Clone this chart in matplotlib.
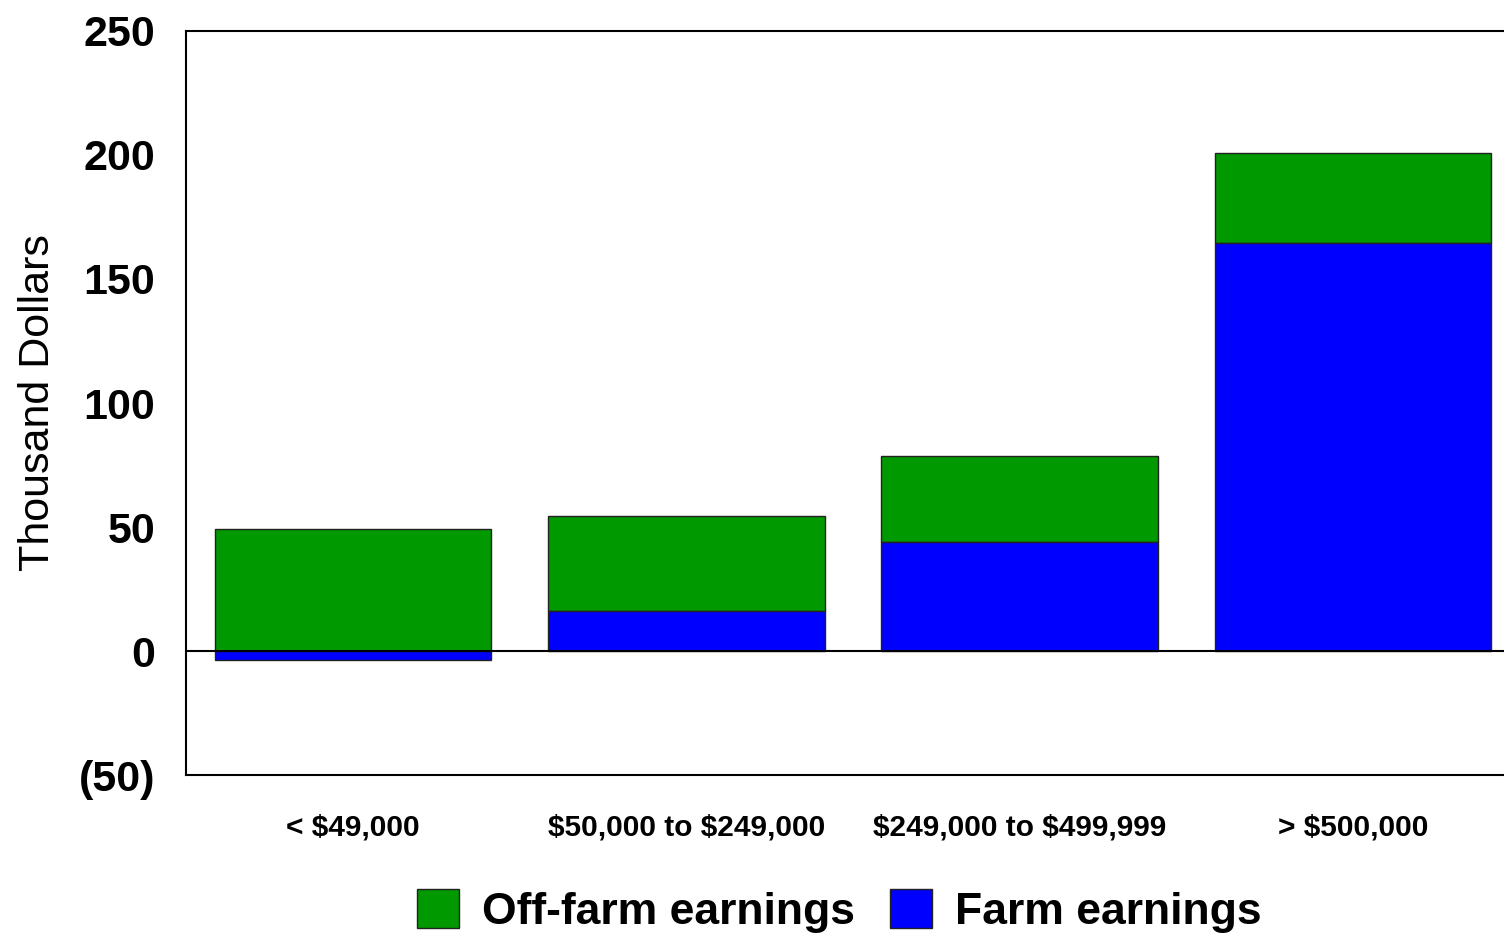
import matplotlib.pyplot as plt
import numpy as np

categories = ['< $49,000', '$50,000 to $249,000', '$249,000 to $499,999', '> $500,000']
farm = [-3.5, 16.1, 44.0, 164.5]
off_farm = [49.2, 38.3, 34.6, 36.3]
yticks = [-50, 0, 50, 100, 150, 200, 250]

plt.rcParams['font.family'] = ['Liberation Sans', 'DejaVu Sans']
plt.rcParams['text.parse_math'] = False

fig = plt.figure(figsize=(15.04, 9.33), dpi=100)
ax = fig.add_axes([0.1237, 0.1693, 0.8763, 0.7975])

x = np.arange(len(categories))
farm = np.array(farm)
off_farm = np.array(off_farm)
bottom_off = np.where(farm > 0, farm, 0)

b1 = ax.bar(x, off_farm, width=0.83, bottom=bottom_off, color='#009900',
            edgecolor='#222222', linewidth=1, label='Off-farm earnings', zorder=2)
b2 = ax.bar(x, farm, width=0.83, color='#0000FF', edgecolor='#222222',
            linewidth=1, label='Farm earnings', zorder=2)
ax.axhline(0, color='black', linewidth=1.5, zorder=3)

ax.set_xlim(-0.501, 3.453)
ax.set_ylim(-50, 250)
ax.set_yticks(yticks)
ax.set_yticklabels(['({})'.format(-v) if v < 0 else str(v) for v in yticks],
                   fontsize=31, fontweight='bold')
ax.set_xticks(x)
ax.set_xticklabels(categories, fontsize=21.5, fontweight='bold')
ax.tick_params(axis='y', length=0, pad=22)
ax.tick_params(axis='x', length=0, pad=28)
ax.set_ylabel('Thousand Dollars', fontsize=31, labelpad=15)

ax.spines['right'].set_visible(False)
for s in ['left', 'top', 'bottom']:
    ax.spines[s].set_linewidth(1.5)

fig.legend(handles=[b1, b2], loc='center', bbox_to_anchor=(0.558, 0.024),
           ncol=2, frameon=False, prop={'weight': 'bold', 'size': 32},
           handlelength=0.95, handleheight=1.0, handletextpad=0.5, columnspacing=0.8)

fig.savefig('out.png', dpi=100)
